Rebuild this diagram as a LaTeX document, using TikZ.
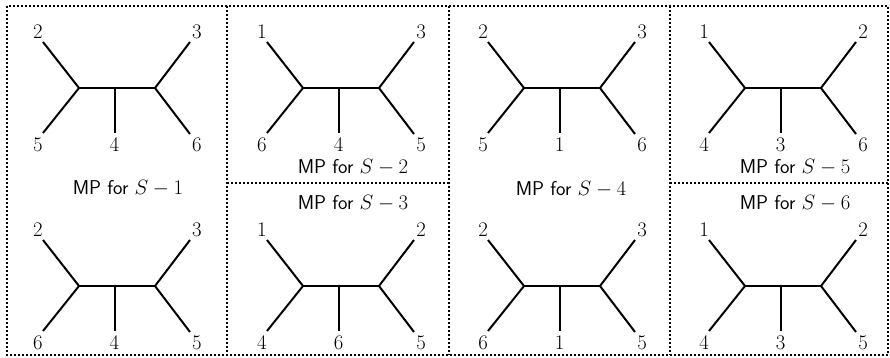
\documentclass[tikz,border=0pt]{standalone}
\usepackage{amsmath}
\begin{document}
\begin{tikzpicture}[x=1pt,y=-1pt]
\tikzset{
  edge/.style={line width=2pt, line join=miter},
  leaflbl/.style={inner sep=0pt, font=\fontsize{20}{24}\selectfont},
  mpcaption/.style={inner sep=0pt, font=\fontsize{20}{24}\selectfont\sffamily},
  frame/.style={line width=2pt, dash pattern=on 2pt off 2pt}
}
\useasboundingbox (0,0) rectangle (890,358);
\newcommand\mytree[8]{%
  \begin{scope}[shift={(#1,#2)}]
    \coordinate (#3a) at (79,0);
    \coordinate (#3b) at (155,0);
    \coordinate (#3m) at (114.5,0);
    \coordinate (#3tl) at (43,-46);
    \coordinate (#3bl) at (43,45);
    \coordinate (#3tr) at (190,-46);
    \coordinate (#3br) at (190,46);
    \coordinate (#3me) at (114.5,45);
    \draw[edge] (#3tl) -- (#3a) -- (#3bl);
    \draw[edge] (#3tr) -- (#3b) -- (#3br);
    \draw[edge] (#3a) -- (#3b);
    \draw[edge] (#3m) -- (#3me);
    \node[leaflbl] (#3Ltl) at (38,-56) {$#4$};
    \node[leaflbl] (#3Ltr) at (197,-56) {$#5$};
    \node[leaflbl] (#3Lbl) at (38,57) {$#6$};
    \node[leaflbl] (#3Lbm) at (114.5,57) {$#7$};
    \node[leaflbl] (#3Lbr) at (197,57) {$#8$};
  \end{scope}}
% frames
\draw[frame] (7,6) rectangle (888,355);
\draw[frame] (227,6) -- (227,355);
\draw[frame] (449,6) -- (449,355);
\draw[frame] (670,6) -- (670,355);
\draw[frame] (227,183) -- (449,183);
\draw[frame] (670,183) -- (888,183);
% column 1
\mytree{0}{88}{pA}{2}{3}{5}{4}{6}
\mytree{0}{286}{pB}{2}{3}{6}{4}{5}
\node[mpcaption] (c1) at (128,188) {MP for $S-1$};
% column 2
\mytree{224}{88}{pC}{1}{3}{6}{4}{5}
\mytree{224}{286}{pD}{1}{2}{4}{6}{5}
\node[mpcaption] (c2) at (353,167) {MP for $S-2$};
\node[mpcaption] (c3) at (353,203) {MP for $S-3$};
% column 3
\mytree{445}{88}{pE}{2}{3}{5}{1}{6}
\mytree{445}{286}{pF}{2}{3}{6}{1}{5}
\node[mpcaption] (c4) at (571,189) {MP for $S-4$};
% column 4
\mytree{666}{88}{pG}{1}{2}{4}{3}{6}
\mytree{666}{286}{pH}{1}{2}{4}{3}{5}
\node[mpcaption] (c5) at (795,167) {MP for $S-5$};
\node[mpcaption] (c6) at (795,203) {MP for $S-6$};
\end{tikzpicture}
\end{document}
